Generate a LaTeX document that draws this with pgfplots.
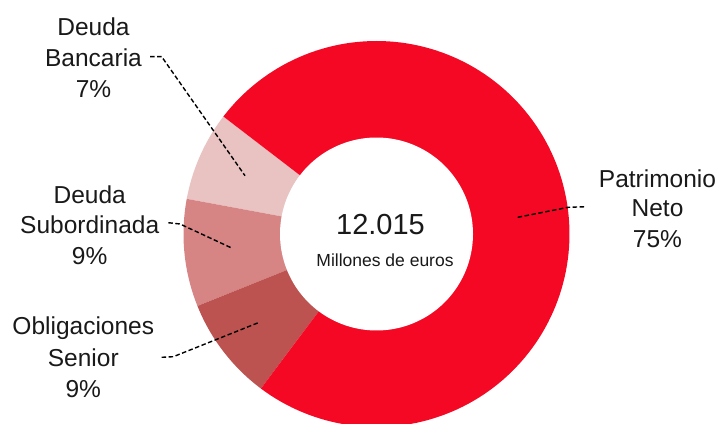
\documentclass[border=0pt]{standalone}
\usepackage{pgfplots}
\usepackage{pgfplotstable}
\pgfplotsset{compat=1.18}
\usepackage{fontspec}
\setmainfont{Liberation Sans}

\definecolor{cPat}{HTML}{F50823}
\definecolor{cBanc}{HTML}{E9C2C2}
\definecolor{cSub}{HTML}{D68484}
\definecolor{cSen}{HTML}{BD5350}

% share of 12.015 M EUR, in percent
\pgfplotstableread{
label        value
Bancaria     7.5
Subordinada  9.0
Senior       8.7
Patrimonio   74.8
}\datatable

\begin{document}
\begin{tikzpicture}
\path[use as bounding box] (0,0) rectangle (723bp,424bp);
\pgfplotstablegetelem{0}{value}\of\datatable \let\vA\pgfplotsretval
\pgfplotstablegetelem{1}{value}\of\datatable \let\vB\pgfplotsretval
\pgfplotstablegetelem{2}{value}\of\datatable \let\vC\pgfplotsretval
\pgfplotstablegetelem{3}{value}\of\datatable \let\vD\pgfplotsretval
\pgfmathsetmacro\aA{142.5}
\pgfmathsetmacro\aB{\aA+3.6*\vA}
\pgfmathsetmacro\aC{\aB+3.6*\vB}
\pgfmathsetmacro\aD{\aC+3.6*\vC}
\pgfmathsetmacro\aE{\aD+3.6*\vD}
\def\cx{376.5}\def\cy{190}\def\R{193}\def\r{96.5}
\begin{axis}[
    at={(0,0)}, anchor=south west,
    width=723bp, height=424bp, scale only axis,
    xmin=0, xmax=723, ymin=0, ymax=424,
    hide axis,
]
% ring slices
\addplot[fill=cBanc, draw=none, domain=\aA:\aB, samples=40] ({\cx+\R*cos(x)},{\cy+\R*sin(x)}) -- (\cx,\cy) -- cycle;
\addplot[fill=cSub,  draw=none, domain=\aB:\aC, samples=40] ({\cx+\R*cos(x)},{\cy+\R*sin(x)}) -- (\cx,\cy) -- cycle;
\addplot[fill=cSen,  draw=none, domain=\aC:\aD, samples=40] ({\cx+\R*cos(x)},{\cy+\R*sin(x)}) -- (\cx,\cy) -- cycle;
\addplot[fill=cPat,  draw=none, domain=\aD:\aE, samples=150] ({\cx+\R*cos(x)},{\cy+\R*sin(x)}) -- (\cx,\cy) -- cycle;
% hole
\addplot[fill=white, draw=none, domain=0:360, samples=150] ({\cx+\r*cos(x)},{\cy+\r*sin(x)}) -- cycle;

% leader lines
\tikzset{lead/.style={black, line width=1.4bp, dash pattern=on 4.5bp off 2.5bp}}
\addplot[lead] coordinates {(150,367.3) (161.7,367.3) (245,248.3)};
\addplot[lead] coordinates {(168.3,201.3) (180,200) (232.3,175.7)};
\addplot[lead] coordinates {(161.7,66.7) (173.3,67.3) (259.3,101.7)};
\addplot[lead] coordinates {(517.7,206.7) (568.3,216.7) (586.7,217.3)};

% labels
\tikzset{lab/.style={anchor=base, inner sep=0pt, font=\fontsize{24.5bp}{29bp}\selectfont, text=black!90}}
\node[lab] at (93.5,388)   {Deuda};
\node[lab] at (93.5,357.3) {Bancaria};
\node[lab] at (93.5,326.3) {7\%};
\node[lab] at (89.7,220.7) {Deuda};
\node[lab] at (89.7,190.7) {Subordinada};
\node[lab] at (89.7,159)   {9\%};
\node[lab] at (83.3,89)    {Obligaciones};
\node[lab] at (83.3,57.3)  {Senior};
\node[lab] at (83.3,26.7)  {9\%};
\node[lab] at (657.5,236.7) {Patrimonio};
\node[lab] at (657.5,207.3) {Neto};
\node[lab] at (657.5,176.3) {75\%};
\node[lab, font=\fontsize{29bp}{34bp}\selectfont] at (380.5,189) {12.015};
\node[lab, font=\fontsize{17.5bp}{21bp}\selectfont] at (385,157.3) {Millones de euros};
\end{axis}
\end{tikzpicture}
\end{document}
